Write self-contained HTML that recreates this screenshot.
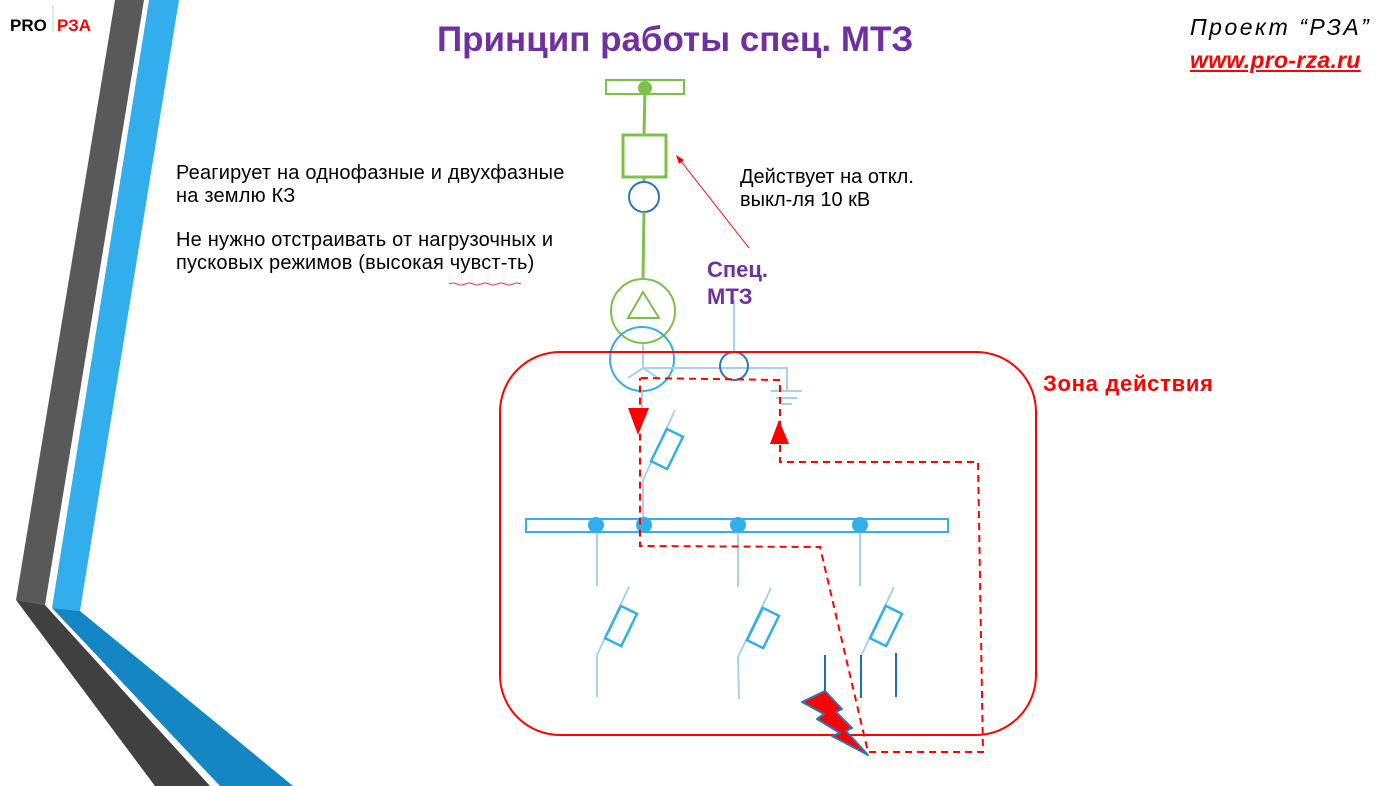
<!DOCTYPE html>
<html><head><meta charset="utf-8"><style>
body{margin:0;width:1397px;height:786px;overflow:hidden;background:#fff;font-family:"Liberation Sans",sans-serif;}
svg{position:absolute;left:0;top:0}
.t{position:absolute;white-space:nowrap}
</style></head><body>
<svg width="1397" height="786" viewBox="0 0 1397 786">
<polygon points="115,0 144,0 45,605 16,600" fill="#595959"/>
<polygon points="149,0 179,0 80,611 52,608" fill="#31aeeb"/>
<polygon points="16,600 45,605 210,786 155,786" fill="#404040"/>
<polygon points="52,608 80,611 293,786 220,786" fill="#1486c3"/>
<line x1="53" y1="5" x2="53" y2="32" stroke="#bcd5ee" stroke-width="1"/>
<rect x="606" y="80" width="78" height="14" fill="none" stroke="#7cc14a" stroke-width="2"/>
<circle cx="645" cy="88" r="7" fill="#7cc14a"/>
<line x1="645" y1="88" x2="644" y2="135" stroke="#7cc14a" stroke-width="3"/>
<rect x="623" y="135" width="43" height="42" fill="none" stroke="#7cc14a" stroke-width="3"/>
<line x1="644" y1="177" x2="644" y2="182" stroke="#7cc14a" stroke-width="3"/>
<circle cx="644" cy="197" r="15" fill="none" stroke="#2e75b6" stroke-width="2"/>
<line x1="644" y1="212" x2="643" y2="278" stroke="#7cc14a" stroke-width="3"/>
<circle cx="643" cy="311" r="32" fill="none" stroke="#7cc14a" stroke-width="2"/>
<polygon points="643,292 628,318 659,318" fill="none" stroke="#7cc14a" stroke-width="2"/>
<circle cx="642" cy="359" r="32" fill="none" stroke="#31aeeb" stroke-width="2"/>
<g stroke="#a9d0f0" stroke-width="2" fill="none">
<line x1="643" y1="344" x2="643" y2="368"/>
<line x1="643" y1="368" x2="628" y2="378"/>
<line x1="643" y1="368" x2="658" y2="378"/>
<polyline points="643,368 787,368 787,390"/>
<line x1="771" y1="391" x2="802" y2="391"/>
<line x1="776" y1="398" x2="797" y2="398"/>
<line x1="781" y1="404" x2="792" y2="404"/>
<line x1="734" y1="300" x2="734" y2="352"/>
<line x1="642" y1="391" x2="642" y2="408"/>
<line x1="675" y1="410" x2="643" y2="480"/>
<line x1="643" y1="480" x2="643" y2="519"/>
<line x1="597" y1="532" x2="597" y2="586"/>
<line x1="738" y1="532" x2="738" y2="587"/>
<line x1="860" y1="532" x2="860" y2="586"/>
<line x1="629" y1="587" x2="597" y2="655"/><line x1="597" y1="655" x2="597" y2="697"/>
<line x1="771" y1="588" x2="738" y2="657"/><line x1="738" y1="657" x2="739" y2="699"/>
<line x1="894" y1="587" x2="861" y2="656"/>
</g>
<circle cx="734" cy="366" r="14" fill="none" stroke="#2e75b6" stroke-width="2"/>
<g fill="#fff" stroke="#31aeeb" stroke-width="2.5">
<rect x="-9" y="-18" width="18" height="36" transform="translate(667,449) rotate(26)"/>
<rect x="-9" y="-18" width="18" height="36" transform="translate(621,626) rotate(26)"/>
<rect x="-9" y="-18" width="18" height="36" transform="translate(763,628) rotate(26)"/>
<rect x="-9" y="-18" width="18" height="36" transform="translate(886,626) rotate(26)"/>
</g>
<rect x="526" y="519" width="422" height="13" fill="none" stroke="#31aeeb" stroke-width="2"/>
<g fill="#31aeeb"><circle cx="596" cy="525" r="8"/><circle cx="644" cy="525" r="8"/><circle cx="738" cy="525" r="8"/><circle cx="860" cy="525" r="8"/></g>
<g stroke="#1f6fb5" stroke-width="2"><line x1="825" y1="655" x2="825" y2="700"/><line x1="861" y1="655" x2="861" y2="698"/><line x1="896" y1="653" x2="896" y2="697"/></g>
<rect x="500" y="352" width="536" height="383" rx="60" fill="none" stroke="#ff0000" stroke-width="2"/>
<polyline points="641,378 780,380 780,462 978,462 983,752 868,752 820,547 640,546 640,378" fill="none" stroke="#ff0000" stroke-width="2" stroke-dasharray="7,5"/>
<polygon points="628,408 649,408 638,435" fill="#ff0000"/>
<polygon points="779,420 770,444 789,444" fill="#ff0000"/>
<polygon points="802,702 825,691 842,709 836,712 852,728 846,731 868,755 832,736 840,733 817,719 824,714" fill="#ff0000" stroke="#2e75b6" stroke-width="2" stroke-linejoin="round"/>
<line x1="749" y1="248" x2="680" y2="160" stroke="#ff0000" stroke-width="1"/>
<polygon points="676,155 684,160 679,164" fill="#ff0000"/>
<path d="M449,284 q4,-2 8,0 t8,0 t8,0 t8,0 t8,0 t8,0 t8,0 t8,0 t8,0" fill="none" stroke="#e04040" stroke-width="1"/>
</svg>
<div class="t" style="left:10px;top:16px;font-size:17px;font-weight:bold;color:#000">PRO</div>
<div class="t" style="left:57px;top:16px;font-size:17px;font-weight:bold;color:#f00">РЗА</div>
<div class="t" style="left:437px;top:20px;font-size:35px;font-weight:bold;color:#7030a0">Принцип работы спец. МТЗ</div>
<div class="t" style="left:1190px;top:14px;font-size:23px;font-style:italic;color:#000;letter-spacing:2.5px">Проект “РЗА”</div>
<div class="t" style="left:1190px;top:47px;font-size:23px;font-style:italic;font-weight:bold;color:#f00;text-decoration:underline;letter-spacing:0.3px">www.pro-rza.ru</div>
<div class="t" style="left:176px;top:162px;font-size:20px;line-height:23px;color:#000;letter-spacing:0.2px">Реагирует на однофазные и двухфазные<br>на землю КЗ</div>
<div class="t" style="left:176px;top:229px;font-size:20px;line-height:23px;color:#000;letter-spacing:0.2px">Не нужно отстраивать от нагрузочных и<br>пусковых режимов (высокая чувст-ть)</div>
<div class="t" style="left:740px;top:166px;font-size:20px;line-height:23px;color:#000">Действует на откл.<br>выкл-ля 10 кВ</div>
<div class="t" style="left:707px;top:256px;font-size:22px;line-height:27px;font-weight:bold;color:#7030a0">Спец.<br>МТЗ</div>
<div class="t" style="left:1043px;top:371px;font-size:22px;font-weight:bold;color:#f00;letter-spacing:0.7px">Зона действия</div>
</body></html>
